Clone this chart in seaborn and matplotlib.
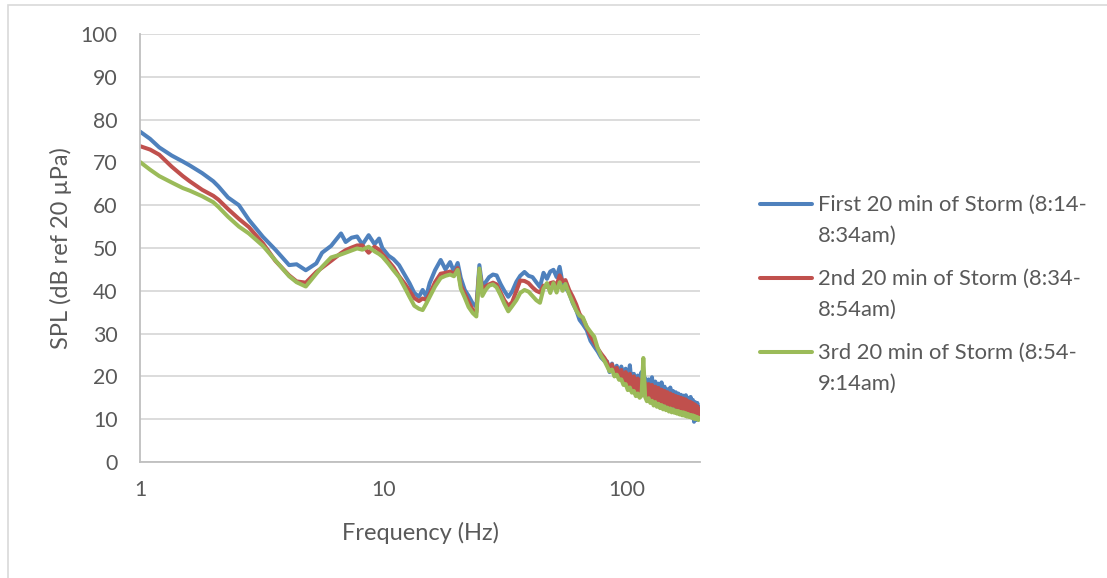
import matplotlib
matplotlib.use("Agg")
import matplotlib.pyplot as plt
from matplotlib.lines import Line2D
from matplotlib.patches import Rectangle
import seaborn as sns
import pandas as pd

# Frequency bins (Hz)
freq = [
    1.0, 1.1, 1.2, 1.35, 1.5, 1.6, 1.8, 2.0, 2.1, 2.3, 2.55, 2.8, 3.2, 3.6, 4.1, 4.4,
    4.8, 5.3, 5.6, 6.1, 6.7, 7.0, 7.4, 7.8, 8.2, 8.7, 9.2, 9.6, 9.9, 10.5, 11.0, 11.6,
    12.3, 12.8, 13.4, 14.0, 14.5, 15.0, 15.5, 16.3, 17.2, 18.0, 18.8, 19.5, 20.2, 20.8,
    21.6, 22.4, 23.3, 24.1, 24.8, 25.5, 26.3, 27.2, 28.2, 29.2, 30.3, 31.4, 32.6, 33.8,
    35.2, 36.5, 38.0, 39.5, 41.0, 42.5, 44.0, 45.5, 47.0, 48.5, 50.0, 51.5, 53.0, 54.5,
    56.0, 58.0, 60.0, 62.0, 64.0, 66.0, 68.5, 71.0, 73.5, 76.0, 78.5, 81.0,
    83, 85, 87, 89, 91, 93, 95, 97, 99, 101, 103, 105, 107, 109, 111, 113, 115, 117,
    119, 121, 123, 125, 127, 129, 131, 133, 135, 137, 139, 141, 143, 145, 147, 149,
    151, 153, 155, 157, 159, 161, 163, 165, 167, 169, 171, 173, 175, 177, 179, 181,
    183, 185, 187, 189, 191, 193, 195, 197, 199,
]

# SPL (dB re 20 uPa) for each 20-minute window
spl_first = [
    77.2, 75.5, 73.5, 71.6, 70.2, 69.3, 67.5, 65.6, 64.4, 61.8, 60.0, 56.6, 52.6, 49.6, 46.0, 46.2,
    44.8, 46.4, 48.9, 50.5, 53.4, 51.4, 52.4, 52.7, 50.8, 53.0, 50.9, 52.2, 50.0, 48.2, 47.4, 46.0,
    43.5, 41.8, 39.5, 38.6, 40.2, 38.7, 41.8, 44.8, 47.2, 45.0, 46.7, 44.5, 46.5, 43.0,
    40.2, 38.8, 37.0, 36.3, 46.0, 40.9, 42.0, 43.2, 43.8, 43.6, 41.6, 40.0, 38.6, 39.8,
    42.1, 43.5, 44.4, 43.5, 43.2, 42.0, 40.9, 44.2, 42.8, 44.5, 44.9, 43.2, 45.6, 41.8,
    40.8, 39.5, 37.1, 35.5, 33.2, 32.2, 30.8, 28.3, 27.0, 25.8, 24.4, 23.6,
    23.5, 21.0, 23.0, 20.2, 22.5, 19.5, 22.3, 18.8, 21.8, 18.0, 22.6, 17.5, 20.6, 16.8, 20.2, 16.3, 21.0, 15.8,
    19.6, 15.5, 19.3, 15.0, 19.8, 14.6, 18.8, 14.4, 18.3, 14.0, 18.6, 13.8, 17.6, 13.4, 17.0, 13.1,
    17.4, 12.9, 16.6, 12.7, 16.3, 12.5, 16.0, 12.3, 15.7, 12.0, 15.5, 11.9, 15.6, 11.6, 15.0, 11.4,
    15.2, 10.8, 14.5, 9.4, 14.0, 9.8, 13.8, 10.6, 12.8,
]

spl_second = [
    73.8, 73.0, 71.8, 69.0, 66.8, 65.6, 63.6, 62.2, 61.3, 59.1, 56.8, 54.9, 51.1, 47.0, 43.6, 42.2,
    41.9, 44.4, 45.4, 47.0, 48.8, 49.5, 50.1, 50.6, 50.6, 48.9, 50.3, 49.6, 48.6, 46.9, 45.5, 43.4,
    41.5, 40.0, 38.3, 37.6, 38.2, 37.9, 39.2, 42.0, 44.0, 44.2, 44.5, 44.0, 45.3, 41.2,
    39.3, 37.4, 35.5, 35.0, 44.8, 40.0, 41.0, 41.5, 41.9, 41.5, 39.6, 37.8, 36.5, 37.3,
    40.0, 42.4, 42.3, 41.8, 40.8, 40.0, 39.6, 41.2, 40.9, 41.8, 42.0, 41.2, 43.6, 42.2,
    42.5, 40.2, 38.6, 36.8, 34.6, 33.5, 31.5, 29.4, 28.0, 26.5, 25.3, 24.3,
    23.3, 21.6, 22.8, 20.5, 22.0, 19.7, 21.5, 18.8, 21.0, 17.8, 20.6, 17.3, 20.0, 16.6, 19.5, 16.2, 19.2, 15.8,
    18.5, 15.3, 18.2, 15.0, 18.0, 14.6, 17.6, 14.4, 17.3, 14.0, 16.9, 13.9, 16.6, 13.6, 16.3, 13.3,
    16.0, 13.2, 15.7, 13.0, 15.4, 12.7, 15.2, 12.5, 15.0, 12.2, 14.8, 12.1, 14.6, 11.9, 14.2, 11.7,
    14.0, 11.5, 13.7, 11.3, 13.4, 11.2, 13.0, 11.0, 12.4,
]

spl_third = [
    70.1, 68.3, 66.8, 65.3, 64.0, 63.4, 62.1, 60.7, 59.6, 57.3, 55.0, 53.4, 50.5, 47.1, 43.4, 42.0,
    41.0, 44.0, 45.6, 47.8, 48.5, 48.9, 49.4, 49.9, 49.6, 50.3, 49.2, 48.6, 48.0, 46.3, 44.8, 43.2,
    40.5, 38.6, 36.5, 35.8, 35.5, 37.0, 38.6, 41.0, 43.0, 43.5, 43.8, 43.4, 44.9, 40.5,
    38.4, 36.2, 34.8, 34.0, 45.2, 38.8, 40.2, 41.2, 41.5, 40.8, 39.0, 37.0, 35.2, 36.4,
    37.8, 39.5, 40.2, 39.8, 38.8, 37.8, 37.2, 40.5, 41.8, 39.5, 41.8, 39.6, 42.0, 40.0,
    41.6, 39.2, 37.3, 35.4, 34.2, 33.8, 31.6, 30.4, 29.3, 26.6, 24.8, 23.6,
    22.4, 21.2, 21.6, 20.0, 20.4, 19.2, 19.3, 18.0, 18.2, 16.8, 17.4, 16.2, 16.6, 15.4, 16.0, 15.0, 15.5, 24.3,
    15.2, 14.2, 14.9, 13.8, 14.3, 13.2, 14.0, 12.9, 13.6, 12.6, 13.3, 12.3, 13.0, 12.1, 12.7, 11.8,
    12.5, 11.6, 12.3, 11.5, 12.0, 11.3, 11.9, 11.1, 11.7, 10.9, 11.6, 10.8, 11.4, 10.6, 11.2, 10.5,
    11.0, 10.3, 10.9, 10.1, 10.7, 10.0, 10.5, 9.8, 10.3,
]

series_labels = [
    "First 20 min of Storm (8:14-\n8:34am)",
    "2nd 20 min of Storm (8:34-\n8:54am)",
    "3rd 20 min of Storm (8:54-\n9:14am)",
]
series_colors = ["#4F81BD", "#C0504D", "#9BBB59"]

y_ticks = [0, 10, 20, 30, 40, 50, 60, 70, 80, 90, 100]
x_ticks = [1, 10, 100]
x_tick_labels = ["1", "10", "100"]

df = pd.concat(
    [
        pd.DataFrame({"freq": freq, "spl": vals, "window": lab})
        for vals, lab in zip([spl_first, spl_second, spl_third], series_labels)
    ],
    ignore_index=True,
)

sns.set_theme(style="white")
plt.rcParams["font.family"] = ["Lato", "DejaVu Sans"]
text_color = "#595959"

fig = plt.figure(figsize=(11.07, 5.78), dpi=100)
ax = fig.add_axes([140 / 1107, 116 / 578, 560 / 1107, 428 / 578])

sns.lineplot(
    data=df, x="freq", y="spl", hue="window", hue_order=series_labels,
    palette=series_colors, linewidth=2.9, legend=False, ax=ax, sort=True,
    estimator=None,
)

ax.set_xscale("log")
ax.set_xlim(1, 200)
ax.set_ylim(0, 100)
ax.set_xticks(x_ticks)
ax.set_xticklabels(x_tick_labels)
ax.xaxis.set_minor_locator(matplotlib.ticker.NullLocator())
ax.set_yticks(y_ticks)
ax.yaxis.grid(True, color="#D9D9D9", linewidth=1.3)
ax.xaxis.grid(False)
ax.set_axisbelow(True)

for side in ["top", "right"]:
    ax.spines[side].set_visible(False)
for side in ["left", "bottom"]:
    ax.spines[side].set_color("#BFBFBF")
    ax.spines[side].set_linewidth(1.3)

ax.tick_params(axis="both", length=0, labelsize=15.3, colors=text_color)
ax.tick_params(axis="y", pad=16)
ax.tick_params(axis="x", pad=13)

ax.set_xlabel("Frequency (Hz)", fontsize=17, color=text_color, labelpad=16)
ax.set_ylabel("SPL (dB ref 20 µPa)", fontsize=17, color=text_color, labelpad=6)

# Legend on the right, each label wrapped over two lines
for i, (lab, col) in enumerate(zip(series_labels, series_colors)):
    y_handle = 1 - (204 + 74 * i) / 578
    fig.add_artist(Line2D([760 / 1107, 812 / 1107], [y_handle, y_handle],
                          transform=fig.transFigure, color=col, linewidth=2.9,
                          solid_capstyle="round"))
    for j, line in enumerate(lab.split("\n")):
        fig.text(818 / 1107, 1 - (211 + 74 * i + 31 * j) / 578, line,
                 fontsize=15.8, color=text_color, va="baseline", ha="left")

# Chart area frame
fig.add_artist(Rectangle((7.5 / 1107, -0.01), 1.02, 1 - 5 / 578 + 0.01,
                         transform=fig.transFigure, fill=False,
                         edgecolor="#D9D9D9", linewidth=1.2))

fig.savefig("out.png", dpi=100)
